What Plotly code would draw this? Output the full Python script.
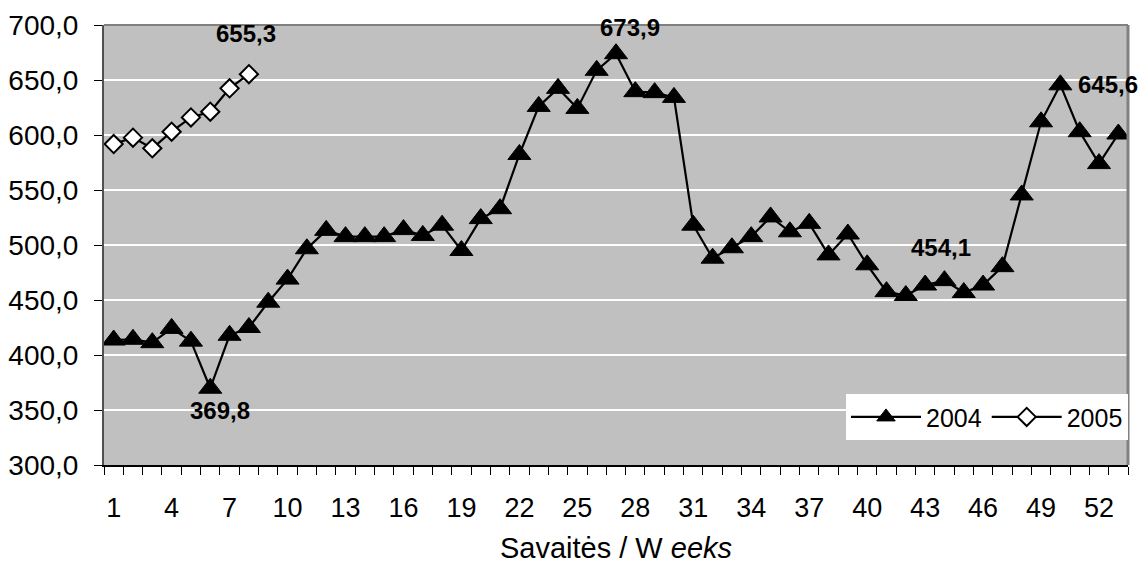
import plotly.graph_objects as go

weeks_2004 = list(range(1, 54))
values_2004 = [413.6, 414.3, 411.2, 424.2, 412.6, 369.8, 417.9, 425.0, 448.0, 469.0,
               496.6, 513.3, 507.6, 507.6, 507.6, 514.0, 508.7, 518.0, 495.0, 524.0,
               533.0, 582.3, 626.0, 642.4, 624.2, 658.8, 673.9, 639.4, 638.5, 634.2,
               518.0, 488.0, 497.5, 507.6, 525.5, 512.0, 519.7, 491.0, 510.0, 482.0,
               457.6, 454.1, 463.6, 467.6, 456.8, 463.6, 480.3, 545.5, 612.0, 645.6,
               603.0, 574.0, 600.9]
weeks_2005 = list(range(1, 9))
values_2005 = [591.8, 597.6, 587.9, 603.0, 616.0, 621.2, 642.4, 655.3]

x_tick_vals = list(range(1, 54, 3))
y_tick_vals = [300, 350, 400, 450, 500, 550, 600, 650, 700]

# labelled points: (series weeks, series values, week, x shift, y shift)
labels = [
    (weeks_2005, values_2005, 8, -3, 41),
    (weeks_2004, values_2004, 27, 14, 26),
    (weeks_2004, values_2004, 6, 10, -22),
    (weeks_2004, values_2004, 50, 48, 0),
]

fig = go.Figure()
fig.add_trace(go.Scatter(
    x=weeks_2004, y=values_2004, name="2004", mode="lines+markers",
    line=dict(color="black", width=2.2),
    marker=dict(symbol="triangle-up", size=20, color="black",
                line=dict(color="black", width=1)),
))
fig.add_trace(go.Scatter(
    x=weeks_2005, y=values_2005, name="2005", mode="lines+markers",
    line=dict(color="black", width=2.2),
    marker=dict(symbol="diamond", size=14, color="white",
                line=dict(color="black", width=2)),
))

font = "Liberation Sans, Arial, sans-serif"
anns = []
for wx, vy, wk, dx, dy in labels:
    v = vy[wx.index(wk)]
    anns.append(dict(x=wk, y=v, xref="x", yref="y",
                     text="<b>" + f"{v:.1f}".replace(".", ",") + "</b>",
                     showarrow=False, xshift=dx, yshift=dy,
                     font=dict(family=font, size=24, color="black")))
# the 454,1 label sits away from its point
v454 = values_2004[weeks_2004.index(42)]
anns.append(dict(x=44, y=500.5, xref="x", yref="y", xshift=-3, yshift=-3,
                 text="<b>" + f"{v454:.1f}".replace(".", ",") + "</b>",
                 showarrow=False, font=dict(family=font, size=24, color="black")))

fig.update_layout(
    width=1138, height=556,
    margin=dict(l=96, r=18, t=17, b=99, autoexpand=False),
    paper_bgcolor="white", plot_bgcolor="#C0C0C0",
    separators=", ",
    font=dict(family=font, size=27, color="black"),
    showlegend=True,
    legend=dict(orientation="h", x=1.0, xanchor="right", y=0.161, yanchor="top",
                bgcolor="white", font=dict(family=font, size=25, color="black"),
                itemwidth=70, tracegroupgap=0),
    annotations=anns,
    shapes=[
        dict(type="line", xref="paper", yref="paper", x0=0, x1=1, y0=1, y1=1,
             line=dict(color="#808080", width=2)),
        dict(type="line", xref="paper", yref="paper", x0=1, x1=1, y0=0, y1=1,
             line=dict(color="#808080", width=3)),
    ],
)
fig.update_xaxes(
    range=[0.5, 53.5], tickmode="array", tickvals=x_tick_vals,
    ticks="", showgrid=False, zeroline=False, automargin=False,
    showline=True, linecolor="black", linewidth=1.5,
    ticklabelstandoff=18,
    tickfont=dict(family=font, size=27),
    minor=dict(tickmode="linear", tick0=0.5, dtick=1, ticks="outside",
               ticklen=8, tickcolor="black", tickwidth=1, showgrid=False),
    title=dict(text="Savaitės / W <i>eeks</i>", standoff=28,
               font=dict(family=font, size=29)),
)
fig.update_yaxes(
    range=[300, 700], tickmode="array", tickvals=y_tick_vals, tickformat=".1f",
    ticks="outside", ticklen=8, tickcolor="black", tickwidth=1,
    showgrid=True, gridcolor="white", gridwidth=1.5, zeroline=False,
    showline=True, linecolor="#505050", linewidth=2, automargin=False,
    ticklabelstandoff=10,
    tickfont=dict(family=font, size=28),
)

fig.write_html("out.html")
